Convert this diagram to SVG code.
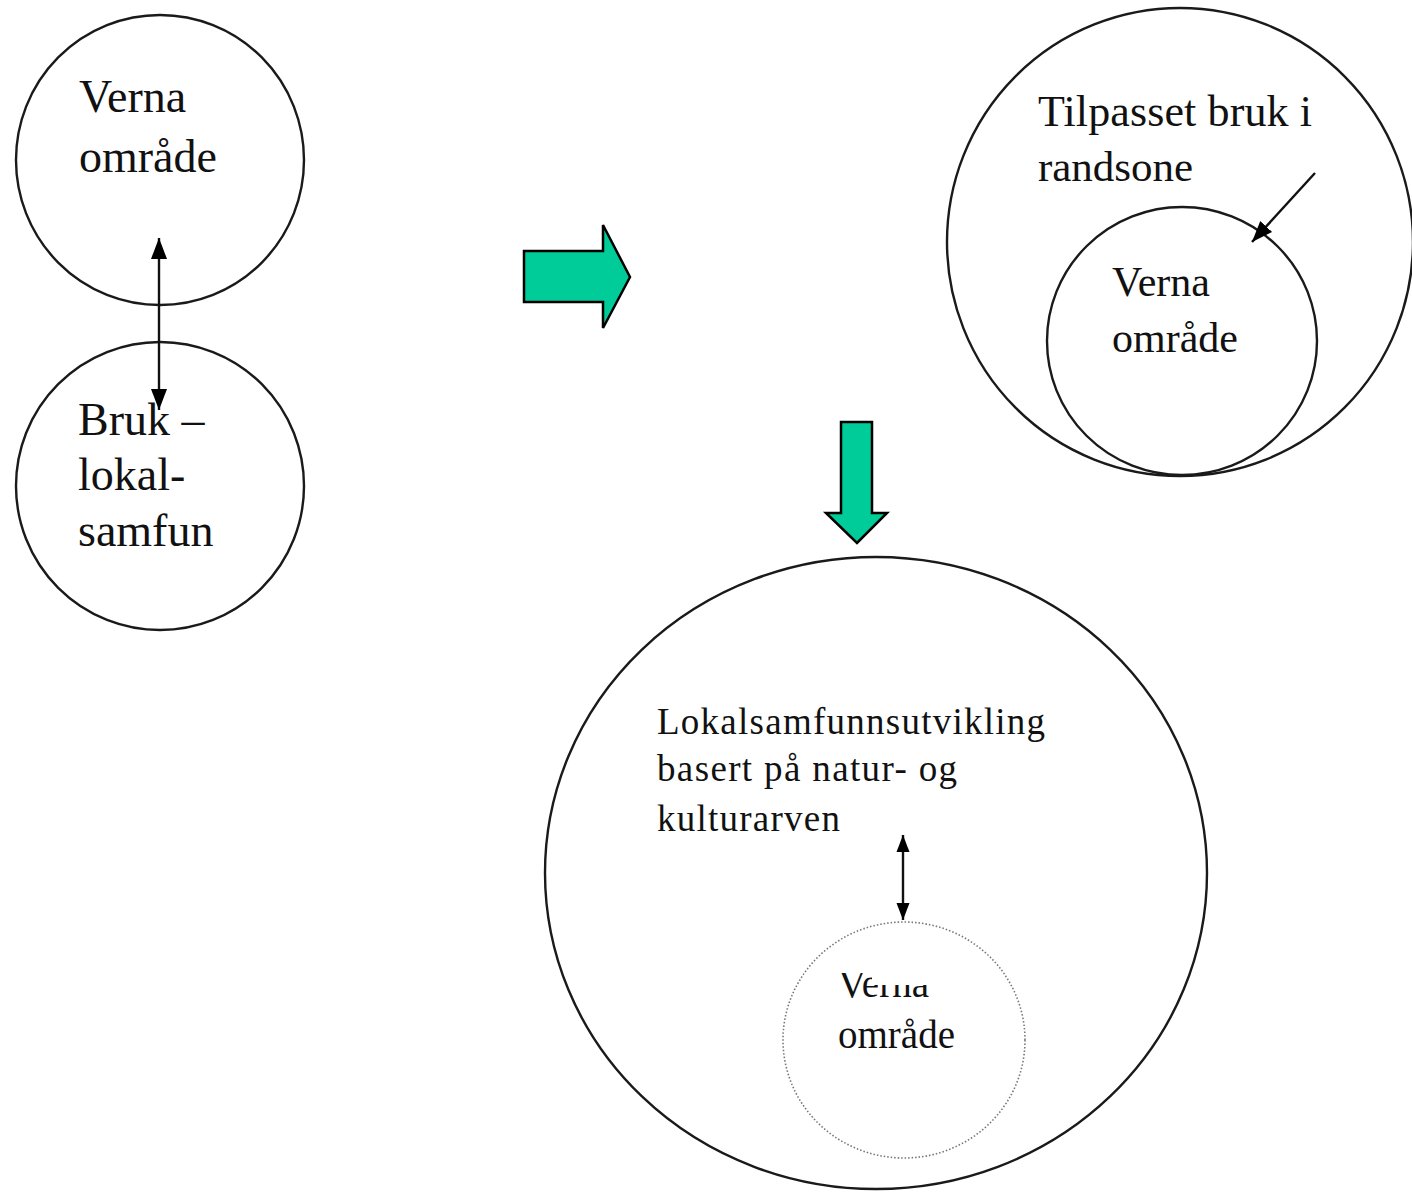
<svg xmlns="http://www.w3.org/2000/svg" width="1412" height="1192" viewBox="0 0 1412 1192">
<style>
.c{fill:none;stroke:#1a1a1a;stroke-width:2.4}
.d{fill:none;stroke:#777;stroke-width:1.6;stroke-dasharray:1.5 2}
.t{font-family:"Liberation Serif","Times New Roman",serif;fill:#111}
.g{fill:#00cc99;stroke:#000;stroke-width:2.5;stroke-linejoin:miter}
.ln{stroke:#111;stroke-width:2.4;fill:none}
</style>
<defs>
<marker id="ah" markerUnits="userSpaceOnUse" markerWidth="22" markerHeight="22" viewBox="0 0 22 22" refX="21" refY="11" orient="auto-start-reverse">
<path d="M0,3 L21,11 L0,19 Z" fill="#000"/>
</marker>
<marker id="ahs" markerUnits="userSpaceOnUse" markerWidth="18" markerHeight="18" viewBox="0 0 18 18" refX="17" refY="9" orient="auto-start-reverse">
<path d="M0,2.5 L17,9 L0,15.5 Z" fill="#000"/>
</marker>
<clipPath id="vclip"><path d="M830,973 H872 V985 H950 V1010 H830 Z"/></clipPath>
</defs>
<rect width="1412" height="1192" fill="#fff"/>

<g id="verna-left">
<ellipse class="c" cx="160" cy="160" rx="144" ry="145"/>
<text class="t" font-size="46" x="79" y="112">Verna</text>
<text class="t" font-size="46" x="79" y="172">område</text>
</g>

<g id="bruk-left">
<ellipse class="c" cx="160" cy="486" rx="144" ry="144"/>
<text class="t" font-size="46" x="78" y="435">Bruk –</text>
<text class="t" font-size="46" x="78" y="490">lokal-</text>
<text class="t" font-size="46" x="78" y="546">samfun</text>
</g>

<g id="randsone">
<ellipse class="c" cx="1180" cy="242" rx="233" ry="234"/>
<text class="t" font-size="44" x="1038" y="126" textLength="274">Tilpasset bruk i</text>
<text class="t" font-size="43" x="1038" y="181" textLength="155">randsone</text>
</g>

<g id="verna-right">
<ellipse class="c" cx="1182" cy="341" rx="135" ry="134"/>
<text class="t" font-size="42" x="1112" y="296">Verna</text>
<text class="t" font-size="42" x="1112" y="352">område</text>
</g>

<g id="lokalsamfunn">
<ellipse class="c" cx="876" cy="873" rx="331" ry="316"/>
<text class="t" font-size="37" x="657" y="734" textLength="388">Lokalsamfunnsutvikling</text>
<text class="t" font-size="37" x="657" y="781" textLength="300">basert på natur- og</text>
<text class="t" font-size="37" x="657" y="831" textLength="183">kulturarven</text>
</g>

<g id="verna-bottom">
<ellipse class="d" cx="904" cy="1040" rx="121" ry="118"/>
<text class="t" font-size="39" x="838" y="997" clip-path="url(#vclip)">Verna</text>
<text class="t" font-size="39" x="838" y="1048">område</text>
</g>

<g id="connectors">
<line class="ln" x1="159" y1="238" x2="159" y2="410" marker-start="url(#ah)" marker-end="url(#ah)"/>
<line class="ln" x1="1315" y1="173" x2="1252" y2="242" marker-end="url(#ah)"/>
<line class="ln" x1="903" y1="835" x2="903" y2="920" marker-start="url(#ahs)" marker-end="url(#ahs)"/>
<polygon class="g" points="524,251 603,251 603,225 630,277 603,328 603,302 524,302"/>
<polygon class="g" points="841,422 872,422 872,513 887,513 857,543 826,513 841,513"/>
</g>
</svg>
